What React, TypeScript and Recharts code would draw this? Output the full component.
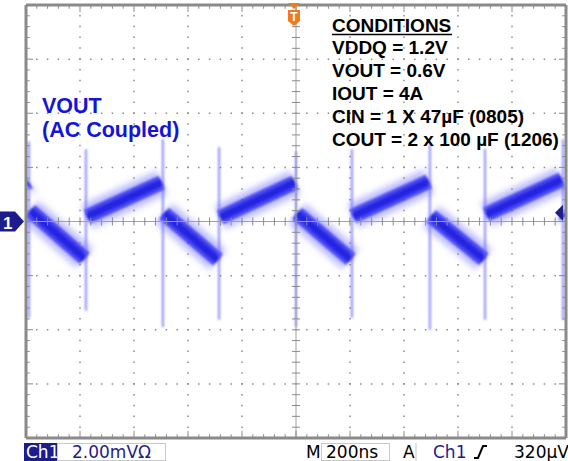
import React from "react";
import { LineChart, Line, XAxis, YAxis, ReferenceLine, ReferenceDot } from "recharts";

const W = 568;
const H = 461;

// scope settings: 200 ns/div x 10 div, 2 mV/div x 8 div (AC coupled)
const TIME_DOMAIN: [number, number] = [-1000, 1000];
const MV_DOMAIN: [number, number] = [-8, 8];
const MAJOR_NS = [-800, -600, -400, -200, 0, 200, 400, 600, 800];
const MAJOR_MV = [-6, -4, -2, 0, 2, 4, 6];
const TRIGGER_LEVEL_MV = 0.32;

// straight pieces of the ripple band (ns, mV)
const RAMP_START_NS = [-1000, -985, -774, -489, -281, 4, 211, 500, 704, 993];
const RAMP_START_MV = [1.38, 0.4, 0.18, 0.3, 0.15, 0.3, 0.2, 0.2, 0.26, 0.3];
const RAMP_END_NS = [-992, -782, -497, -289, -4, 203, 492, 696, 985, 1000];
const RAMP_END_MV = [1.45, -1.36, 1.44, -1.42, 1.44, -1.4, 1.48, -1.4, 1.55, 0.22];

// switching spikes
const SPIKE_NS = [-989, -778, -493, -285, 0, 207, 496, 700, 989];
const SPIKE_HIGH_MV = [2.96, 2.67, 3.04, 2.74, 2.6, 2.67, 2.85, 2.67, 3.04];
const SPIKE_LOW_MV = [-3.56, -3.3, -3.9, -3.63, -3.9, -3.56, -4.0, -3.63, -3.63];

// graticule minor ticks, 5 per division
const MINOR_NS = Array.from({ length: 51 }, (_, i) => -1000 + i * 40);
const MINOR_MV = Array.from({ length: 41 }, (_, i) => -8 + i * 0.4);

const rampData = RAMP_START_NS.flatMap((t, i) => [
  { t, v: RAMP_START_MV[i] },
  { t: RAMP_END_NS[i], v: RAMP_END_MV[i] },
  { t: RAMP_END_NS[i], v: null },
]);

const spikeData = SPIKE_NS.flatMap((t, i) => [
  { t, v: SPIKE_HIGH_MV[i] },
  { t, v: SPIKE_LOW_MV[i] },
  { t, v: null },
]);

const GRAT = "#8a8a8a";
const NAVY = "#1c1c8c";
const SANS = "'Liberation Sans', Arial, sans-serif";
const SCOPE_FONT = "'DejaVu Sans', sans-serif";

const isMajorNs = (t: number) => Math.abs(t % 200) < 1e-6;
const isMajorMv = (v: number) => Math.abs(Math.round(v * 10) % 20) === 0;

function ChannelMarker(props: any) {
  const { cx, cy } = props;
  const x0 = cx - 26;
  return (
    <g>
      <path
        d={`M${x0} ${cy - 10} L${x0 + 15} ${cy - 10} L${cx - 2} ${cy} L${x0 + 15} ${cy + 10} L${x0} ${cy + 10} Z`}
        fill={NAVY}
      />
      <text x={x0 + 3} y={cy + 7} fill="#fff" fontSize={17} fontWeight="bold" fontFamily={SANS}>
        1
      </text>
    </g>
  );
}

function LevelMarker(props: any) {
  const { cx, cy } = props;
  return <path d={`M${cx - 11} ${cy} L${cx - 3} ${cy - 8} L${cx - 3} ${cy + 8} Z`} fill={NAVY} />;
}

function TriggerMarker(props: any) {
  const { cx, cy } = props;
  const x = cx - 2;
  return (
    <g>
      <path d={`M${x - 6} ${cy - 2} L${x + 6} ${cy - 2} L${x} ${cy + 4} Z`} fill="#f07a1e" />
      <path
        d={`M${x - 6} ${cy + 5} L${x + 6} ${cy + 5} L${x + 6} ${cy + 16} L${x} ${cy + 21} L${x - 6} ${cy + 16} Z`}
        fill="#f07a1e"
      />
      <text x={x} y={cy + 16} fill="#fff" fontSize={12} fontWeight="bold" fontFamily={SANS} textAnchor="middle">
        T
      </text>
    </g>
  );
}

const CONDITIONS = [
  "VDDQ = 1.2V",
  "VOUT = 0.6V",
  "IOUT = 4A",
  "CIN = 1 X 47µF (0805)",
  "COUT = 2 x 100 µF (1206)",
];

const traceProps = {
  dataKey: "v",
  type: "linear" as const,
  dot: false,
  activeDot: false,
  connectNulls: false,
  isAnimationActive: false,
};

export default function App() {
  return (
    <div style={{ position: "absolute", left: 0, top: 0, width: W, height: H, background: "#fff" }}>
      <LineChart width={W} height={H} margin={{ top: 5, right: 2, bottom: 23, left: 26 }}>
        <defs>
          <filter id="persist" x="-20%" y="-20%" width="140%" height="140%">
            <feGaussianBlur stdDeviation="3" />
          </filter>
          <filter id="persistCore" x="-20%" y="-20%" width="140%" height="140%">
            <feGaussianBlur stdDeviation="1.3" />
          </filter>
        </defs>
        <XAxis type="number" dataKey="t" domain={TIME_DOMAIN} hide allowDataOverflow />
        <YAxis type="number" domain={MV_DOMAIN} hide allowDataOverflow />

        {/* dotted graticule */}
        {MAJOR_NS.filter((t) => t !== 0).map((t) => (
          <ReferenceLine key={`gx${t}`} x={t} stroke={GRAT} strokeWidth={1.5} strokeDasharray="1.5 9.33" strokeDashoffset={0.75} />
        ))}
        {MAJOR_MV.filter((v) => v !== 0).map((v) => (
          <ReferenceLine key={`gy${v}`} y={v} stroke={GRAT} strokeWidth={1.5} strokeDasharray="1.5 9.3" strokeDashoffset={0.75} />
        ))}

        {/* trace, blurred layers to mimic the persistence band */}
        <Line {...traceProps} data={rampData} stroke="#7a7aff" strokeOpacity={0.5} strokeWidth={26} filter="url(#persist)" />
        <Line {...traceProps} data={rampData} stroke="#3030f0" strokeOpacity={0.8} strokeWidth={15} filter="url(#persistCore)" />
        <Line {...traceProps} data={rampData} stroke="#1616dc" strokeOpacity={0.8} strokeWidth={7} filter="url(#persistCore)" />
        <Line {...traceProps} data={spikeData} stroke="#5c5cff" strokeOpacity={0.65} strokeWidth={2.2} filter="url(#persistCore)" />

        {/* centre axes with minor ticks */}
        <ReferenceLine y={0} stroke="#a0a0a0" strokeWidth={1} />
        <ReferenceLine x={0} stroke="#a0a0a0" strokeWidth={1} />
        {MINOR_NS.map((t) => (
          <ReferenceLine key={`cx${t}`} segment={[{ x: t, y: -0.15 }, { x: t, y: 0.15 }]} stroke={GRAT} ifOverflow="visible" />
        ))}
        {MINOR_MV.map((v) => (
          <ReferenceLine key={`cy${v}`} segment={[{ x: -15, y: v }, { x: 15, y: v }]} stroke={GRAT} ifOverflow="visible" />
        ))}

        {/* frame ticks */}
        {MINOR_NS.map((t) => {
          const d = isMajorNs(t) ? 0.26 : 0.14;
          return (
            <React.Fragment key={`bx${t}`}>
              <ReferenceLine segment={[{ x: t, y: -8 }, { x: t, y: -8 + d }]} stroke={GRAT} ifOverflow="visible" />
              <ReferenceLine segment={[{ x: t, y: 8 }, { x: t, y: 8 - d }]} stroke={GRAT} ifOverflow="visible" />
            </React.Fragment>
          );
        })}
        {MINOR_MV.map((v) => {
          const d = isMajorMv(v) ? 26 : 14;
          return (
            <React.Fragment key={`by${v}`}>
              <ReferenceLine segment={[{ x: -1000, y: v }, { x: -1000 + d, y: v }]} stroke={GRAT} ifOverflow="visible" />
              <ReferenceLine segment={[{ x: 1000, y: v }, { x: 1000 - d, y: v }]} stroke={GRAT} ifOverflow="visible" />
            </React.Fragment>
          );
        })}

        {/* frame */}
        <ReferenceLine x={-1000} stroke={GRAT} strokeWidth={3} ifOverflow="visible" />
        <ReferenceLine x={1000} stroke={GRAT} strokeWidth={3} ifOverflow="visible" />
        <ReferenceLine y={-8} stroke={GRAT} strokeWidth={3} ifOverflow="visible" />
        <ReferenceLine y={8} stroke={GRAT} strokeWidth={3} ifOverflow="visible" />

        {/* markers */}
        <ReferenceDot x={-1000} y={0} ifOverflow="visible" shape={ChannelMarker} />
        <ReferenceDot x={1000} y={TRIGGER_LEVEL_MV} ifOverflow="visible" shape={LevelMarker} />
        <ReferenceDot x={0} y={8} ifOverflow="visible" shape={TriggerMarker} />
      </LineChart>

      <svg width={W} height={H} style={{ position: "absolute", left: 0, top: 0, pointerEvents: "none" }}>
        <g fill="#1515d6" fontFamily={SANS} fontWeight="bold" fontSize={21.5}>
          <text x={42} y={113}>VOUT</text>
          <text x={42} y={137}>(AC Coupled)</text>
        </g>
        <g fill="#000" fontFamily={SANS} fontWeight="bold" fontSize={19}>
          <text x={332} y={32}>CONDITIONS</text>
          <line x1={332} x2={452} y1={34.5} y2={34.5} stroke="#000" strokeWidth={1.6} />
          {CONDITIONS.map((c, i) => (
            <text key={c} x={332} y={54 + i * 23}>
              {c}
            </text>
          ))}
        </g>

        {/* status bar */}
        <g fontFamily={SCOPE_FONT} fontSize={17}>
          <rect x={24} y={443} width={33} height={18} fill={NAVY} />
          <text x={26} y={458} fill="#fff">Ch1</text>
          <rect x={57.5} y={443.5} width={108} height={17} fill="none" stroke="#c8c8c8" />
          <text x={72} y={458} fill={NAVY}>2.00mVΩ</text>
          <text x={306} y={458} fill="#000">M</text>
          <rect x={321.5} y={443.5} width={68} height={17} fill="none" stroke="#c8c8c8" />
          <text x={326} y={458} fill="#000">200ns</text>
          <text x={403} y={458} fill="#000">A</text>
          <line x1={416} x2={416} y1={443} y2={461} stroke="#c8c8c8" />
          <text x={433} y={458} fill={NAVY}>Ch1</text>
          <path d="M474 458 L478 458 L483 446 L487 446" fill="none" stroke="#000" strokeWidth={2} />
          <text x={514} y={458} fill="#000">320µV</text>
        </g>
      </svg>
    </div>
  );
}
